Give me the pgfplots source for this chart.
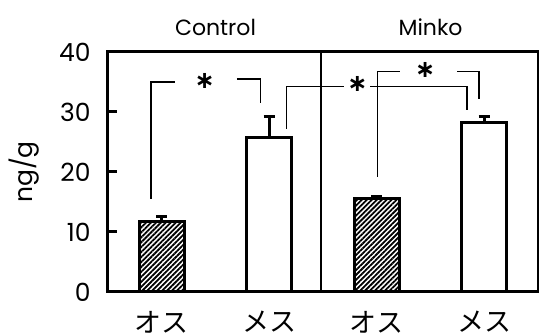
\documentclass[border=0pt]{standalone}
\usepackage{fontspec}
\setmainfont{Poppins}
\newfontfamily\jp{Noto Sans CJK JP}
\newfontfamily\dv{DejaVu Sans}
\usepackage{pgfplots}
\pgfplotsset{compat=1.18}
\usetikzlibrary{patterns.meta}
\begin{document}
\begin{tikzpicture}[x=1pt,y=1pt]
\path[use as bounding box] (-108,-42) rectangle (431,292);
\begin{axis}[
  at={(0,0)}, anchor=south west,
  scale only axis, width=430pt, height=240pt,
  xmin=0, xmax=4, ymin=0, ymax=40,
  axis line style={line width=3pt},
  xtick=\empty,
  ytick={0,10,20,30,40},
  ytick pos=left,
  tick align=inside,
  major tick length=9pt,
  tick style={line width=3pt, black},
  /pgf/number format/assume math mode=true,
  yticklabel style={font=\fontsize{25}{25}\selectfont, xshift=-14pt},
  clip=false,
]
\addplot[ybar, bar width=0.42, bar shift=0pt, draw=black, line width=3pt,
  pattern={Lines[angle=45,distance=3.5pt,line width=1.8pt]}, pattern color=black,
  error bars/.cd, y dir=plus, y explicit,
  error bar style={line width=3pt},
  error mark options={line width=3pt, mark size=5.5pt, rotate=90}]
  coordinates {(0.5,11.7) +- (0,0.8) (2.5,15.5) +- (0,0.4)};
\addplot[ybar, bar width=0.42, bar shift=0pt, draw=black, line width=3pt, fill=white,
  error bars/.cd, y dir=plus, y explicit,
  error bar style={line width=3pt},
  error mark options={line width=3pt, mark size=5.5pt, rotate=90}]
  coordinates {(1.5,25.7) +- (0,3.5) (3.5,28.3) +- (0,1.0)};
% divider
\draw[line width=2.5pt] (axis cs:1.98,0) -- (axis cs:1.98,40);
% brackets
\draw[line width=1.3pt] (axis cs:0.40,15.5) -- (axis cs:0.40,35.0) -- (axis cs:0.62,35.0);
\draw[line width=1.3pt] (axis cs:1.20,35.5) -- (axis cs:1.42,35.5) -- (axis cs:1.42,31.5);
\draw[line width=1.3pt] (axis cs:1.66,27.2) -- (axis cs:1.66,34.2) -- (axis cs:2.20,34.2);
\draw[line width=1.3pt] (axis cs:2.44,34.2) -- (axis cs:3.34,34.2) -- (axis cs:3.34,30.3);
\draw[line width=1.3pt] (axis cs:2.51,19.2) -- (axis cs:2.51,36.7) -- (axis cs:2.72,36.7);
\draw[line width=1.3pt] (axis cs:3.25,36.7) -- (axis cs:3.45,36.7) -- (axis cs:3.45,32.2);
\node[font=\dv\bfseries\fontsize{24}{24}\selectfont, inner sep=0pt] at (axis cs:0.90,35.2) {∗};
\node[font=\dv\bfseries\fontsize{24}{24}\selectfont, inner sep=0pt] at (axis cs:2.32,34.6) {∗};
\node[font=\dv\bfseries\fontsize{24}{24}\selectfont, inner sep=0pt] at (axis cs:2.95,37.0) {∗};
% labels
\node[rotate=90, font=\fontsize{25}{25}\selectfont] at ([xshift=-84pt]axis cs:0,20) {ng/g};
\node[font=\fontsize{22}{22}\selectfont] at ([yshift=25pt]axis cs:1.0,40) {Control};
\node[font=\fontsize{22}{22}\selectfont] at ([yshift=25pt]axis cs:3.0,40) {Minko};
\node[font=\jp\fontsize{27}{27}\selectfont] at ([yshift=-30pt]axis cs:0.5,0) {オス};
\node[font=\jp\fontsize{27}{27}\selectfont] at ([yshift=-30pt]axis cs:1.5,0) {メス};
\node[font=\jp\fontsize{27}{27}\selectfont] at ([yshift=-30pt]axis cs:2.5,0) {オス};
\node[font=\jp\fontsize{27}{27}\selectfont] at ([yshift=-30pt]axis cs:3.5,0) {メス};
\end{axis}
\end{tikzpicture}
\end{document}
